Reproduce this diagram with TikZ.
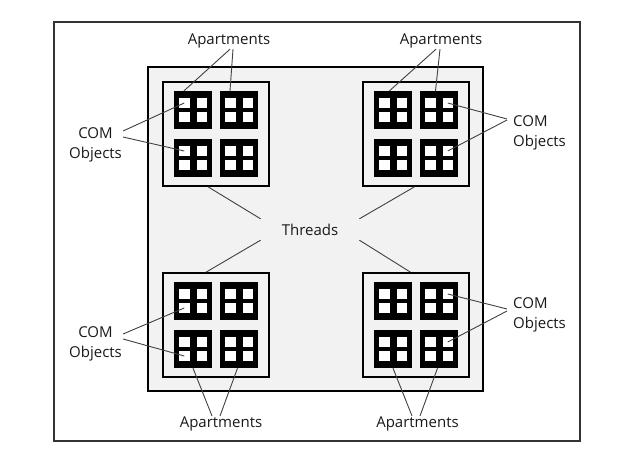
\documentclass[tikz,border=0pt]{standalone}
\usepackage{fontspec}
\setmainfont{Open Sans}
\usepackage{tikz}
\usetikzlibrary{}

\begin{document}
\begin{tikzpicture}[x=1pt,y=-1pt,
		labeltext/.style={font=\fontsize{15}{19.5}\selectfont,text=black!90,inner sep=1pt,align=center},
		pointer/.style={draw=black!75,line width=0.9pt},
		process/.style={draw=black,line width=1.6pt,fill=black!5,minimum width=106pt,minimum height=104pt,inner sep=0pt},
		apartment/.style={fill=black,minimum size=38pt,inner sep=0pt},
		comobject/.style={fill=white,minimum width=10.5pt,minimum height=9.5pt,inner sep=0pt}]
		\useasboundingbox (0,0) rectangle (631,449);
		
		\draw[black!80,line width=1.2pt] (54,22) rectangle (580,441);
		\draw[line width=1.8pt,fill=black!5] (148,67) rectangle (483,391);
		
		\foreach \g/\gx/\gy in {tl/216/134,tr/416/134,bl/216/325,br/416/325}{
			\node[process] (\g) at (\gx,\gy) {};
			\foreach \w/\wx/\wy in {1/-23/-24,2/23/-24,3/-23/24,4/23/24}{
				\node[apartment] (\g\w) at ([shift={(\wx,\wy)}]\g) {};
				\foreach \p/\px/\py in {a/-8.75/-7,b/8.75/-7,c/-8.75/7,d/8.75/7}
					\node[comobject] (\g\w\p) at ([shift={(\px,\py)}]\g\w) {};
			}
		}
		
		\node[labeltext] (apttl) at (229,40.8) {Apartments};
		\node[labeltext] (apttr) at (441,40.8) {Apartments};
		\node[labeltext] (aptbl) at (221,424.3) {Apartments};
		\node[labeltext] (aptbr) at (417.5,424.3) {Apartments};
		
		\node[labeltext] (comtl) at (95.5,145) {COM\\Objects};
		\node[labeltext,align=left,anchor=west] (comtr) at (512,133) {COM\\Objects};
		\node[labeltext] (combl) at (95.5,344) {COM\\Objects};
		\node[labeltext,align=left,anchor=west] (combr) at (512,315) {COM\\Objects};
		
		\node[labeltext,inner xsep=21pt,inner ysep=0pt,minimum height=21pt] (threads) at (310,229.5) {Threads};
		
		\draw[pointer] ([xshift=1pt]apttl.south) -- ([xshift=-9pt]tl1.north);
		\draw[pointer] ([xshift=4pt]apttl.south) -- ([xshift=-9pt]tl2.north);
		\draw[pointer] ([xshift=-5pt]apttr.south) -- ([xshift=-3.5pt]tr1.north);
		\draw[pointer] ([xshift=-1pt]apttr.south) -- ([xshift=-3.5pt]tr2.north);
		\draw[pointer] ([xshift=-9pt]aptbl.north) -- (bl3.south);
		\draw[pointer] ([xshift=-1pt]aptbl.north) -- ([xshift=-1.5pt]bl4.south);
		\draw[pointer] ([xshift=-5.5pt]aptbr.north) -- (br3.south);
		\draw[pointer] ([xshift=2.5pt]aptbr.north) -- ([xshift=-1.5pt]br4.south);
		
		\draw[pointer] ([yshift=14pt]comtl.east) -- (tl1a.center);
		\draw[pointer] ([yshift=8pt]comtl.east) -- (tl3a.center);
		\draw[pointer] ([xshift=-5pt,yshift=14pt]comtr.west) -- (tr2b.center);
		\draw[pointer] ([xshift=-5pt,yshift=13pt]comtr.west) -- (tr4b.center);
		\draw[pointer] ([yshift=10pt]combl.east) -- (bl1c.center);
		\draw[pointer] ([yshift=5pt]combl.east) -- (bl3c.center);
		\draw[pointer] ([xshift=-5pt,yshift=6pt]combr.west) -- (br2b.center);
		\draw[pointer] ([xshift=-5pt,yshift=4pt]combr.west) -- (br4b.center);
		
		\draw[pointer] (threads.north west) -- ([xshift=-8pt]tl.south);
		\draw[pointer] (threads.north east) -- ([xshift=-1.5pt]tr.south);
		\draw[pointer] (threads.south west) -- ([xshift=-10pt]bl.north);
		\draw[pointer] (threads.south east) -- ([xshift=-5.5pt]br.north);
	\end{tikzpicture}
\end{document}
